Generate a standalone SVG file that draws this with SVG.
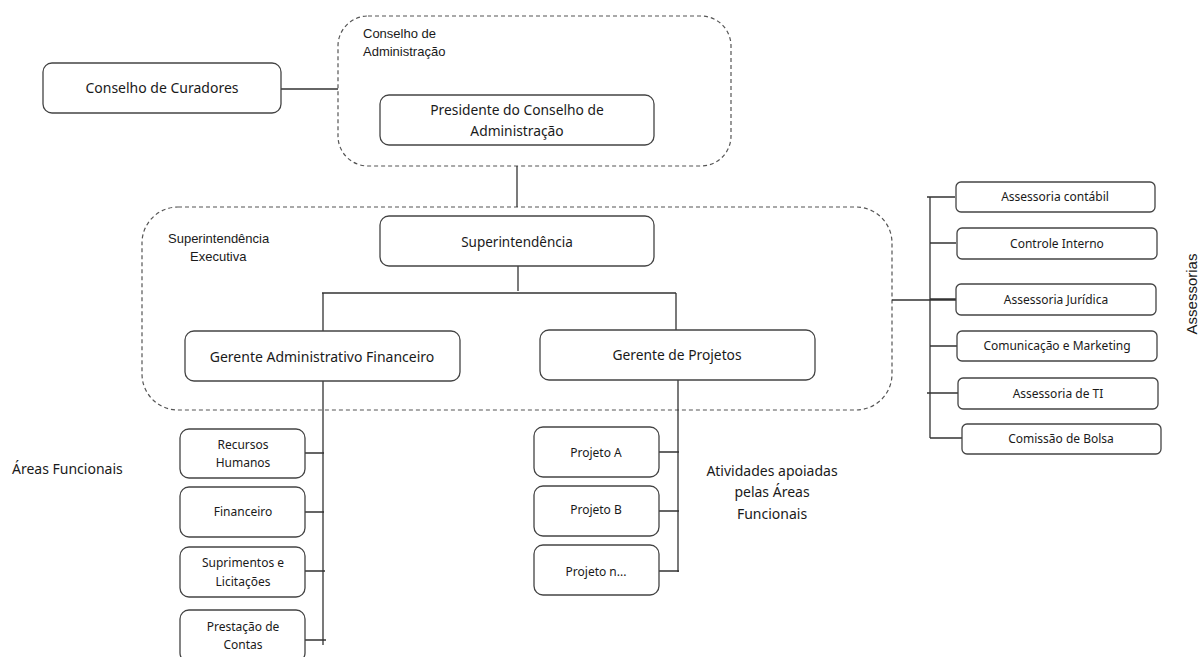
<svg xmlns="http://www.w3.org/2000/svg" width="1200" height="657" viewBox="0 0 1200 657">
<style>
.box{fill:#fff;stroke:#444;stroke-width:1.3}
.grp{fill:none;stroke:#555;stroke-width:1.2;stroke-dasharray:4 3}
.ln{fill:none;stroke:#333;stroke-width:1.3}
.t{font-family:"Noto Sans","Open Sans",sans-serif;fill:#1a1a1a;text-anchor:middle}
.a{font-family:"Liberation Sans",Arial,sans-serif;fill:#1a1a1a}
</style>
<rect width="1200" height="657" fill="#fff"/>
<g id="grp-conselho-admin">
<rect class="grp" x="338" y="16" width="393" height="150" rx="30"/>
<text class="a" font-size="13" x="363" y="37.5">Conselho  de</text>
<text class="a" font-size="13" x="363" y="56">Administração</text>
</g>
<g id="grp-superintendencia-exec">
<rect class="grp" x="142" y="207" width="750" height="203" rx="36"/>
<text class="a" font-size="13" x="168" y="243">Superintendência</text>
<text class="a" font-size="13" x="190" y="261">Executiva</text>
</g>
<g id="connectors">
<path class="ln" d="M281 89H338"/>
<path class="ln" d="M517 166V207"/>
<path class="ln" d="M518 266V291"/>
<path class="ln" d="M322 293H676M323 293V331M676 293V330"/>
<path class="ln" d="M323 381V645M305 453H324M305 512H324M305 571H325M305 640H326"/>
<path class="ln" d="M678 380V572M659 452H679M659 511H679M659 571H679"/>
<path class="ln" d="M892 300H956M930 197V438M927 197H955M930 243H956M930 299H956M930 346H957M927 393H958M930 438H962"/>
</g>
<g id="n-curadores"><rect class="box" x="43" y="63" width="238" height="50" rx="9"/><text class="t" font-size="14" x="162" y="93">Conselho de Curadores</text></g>
<g id="n-presidente"><rect class="box" x="380" y="95" width="274" height="50" rx="9"/><text class="t" font-size="13.8" x="517" y="115">Presidente do Conselho de</text><text class="t" font-size="13.8" x="517" y="136">Administração</text></g>
<g id="n-superintendencia"><rect class="box" x="380" y="216" width="274" height="50" rx="9"/><text class="t" font-size="13.5" x="517" y="247">Superintendência</text></g>
<g id="n-gaf"><rect class="box" x="185" y="331" width="275" height="50" rx="9"/><text class="t" font-size="14" x="322" y="362">Gerente Administrativo Financeiro</text></g>
<g id="n-gp"><rect class="box" x="540" y="330" width="275" height="50" rx="9"/><text class="t" font-size="13.8" x="677" y="360">Gerente de Projetos</text></g>
<g id="n-rh"><rect class="box" x="180" y="429" width="125" height="49" rx="9"/><text class="t" font-size="12" x="243" y="449">Recursos</text><text class="t" font-size="12" x="243" y="467">Humanos</text></g>
<g id="n-fin"><rect class="box" x="180" y="487" width="125" height="50" rx="9"/><text class="t" font-size="12" x="243" y="516">Financeiro</text></g>
<g id="n-sup"><rect class="box" x="180" y="547" width="125" height="50" rx="9"/><text class="t" font-size="12" x="243" y="567">Suprimentos e</text><text class="t" font-size="12" x="243" y="586">Licitações</text></g>
<g id="n-prest"><rect class="box" x="180" y="610" width="125" height="52" rx="9"/><text class="t" font-size="12" x="243" y="631">Prestação de</text><text class="t" font-size="12" x="243" y="649">Contas</text></g>
<g id="n-pa"><rect class="box" x="534" y="427" width="125" height="50" rx="9"/><text class="t" font-size="12" x="596" y="457">Projeto A</text></g>
<g id="n-pb"><rect class="box" x="534" y="486" width="125" height="50" rx="9"/><text class="t" font-size="12" x="596" y="514">Projeto B</text></g>
<g id="n-pn"><rect class="box" x="534" y="545" width="125" height="50" rx="9"/><text class="t" font-size="12" x="596" y="576">Projeto n...</text></g>
<g id="n-as1"><rect class="box" x="956" y="182" width="199" height="30" rx="5"/><text class="t" font-size="12" x="1055" y="201">Assessoria contábil</text></g>
<g id="n-as2"><rect class="box" x="957" y="228" width="200" height="31" rx="5"/><text class="t" font-size="12" x="1057" y="248">Controle Interno</text></g>
<g id="n-as3"><rect class="box" x="956" y="284" width="200" height="31" rx="5"/><text class="t" font-size="12" x="1056" y="304">Assessoria Jurídica</text></g>
<g id="n-as4"><rect class="box" x="957" y="331" width="200" height="30" rx="5"/><text class="t" font-size="12" x="1057" y="350">Comunicação e Marketing</text></g>
<g id="n-as5"><rect class="box" x="958" y="378" width="200" height="31" rx="5"/><text class="t" font-size="12" x="1058" y="398">Assessoria de TI</text></g>
<g id="n-as6"><rect class="box" x="962" y="424" width="199" height="30" rx="5"/><text class="t" font-size="12" x="1061" y="443">Comissão de Bolsa</text></g>
<g id="labels">
<text class="t" font-size="14" x="12" y="474" style="text-anchor:start">Áreas Funcionais</text>
<text class="t" font-size="14" x="772" y="476">Atividades apoiadas</text>
<text class="t" font-size="14" x="772" y="497">pelas Áreas</text>
<text class="t" font-size="14" x="772" y="519">Funcionais</text>
<text class="a" font-size="15" text-anchor="middle" transform="translate(1197 294) rotate(-90)">Assessorias</text>
</g>
</svg>
